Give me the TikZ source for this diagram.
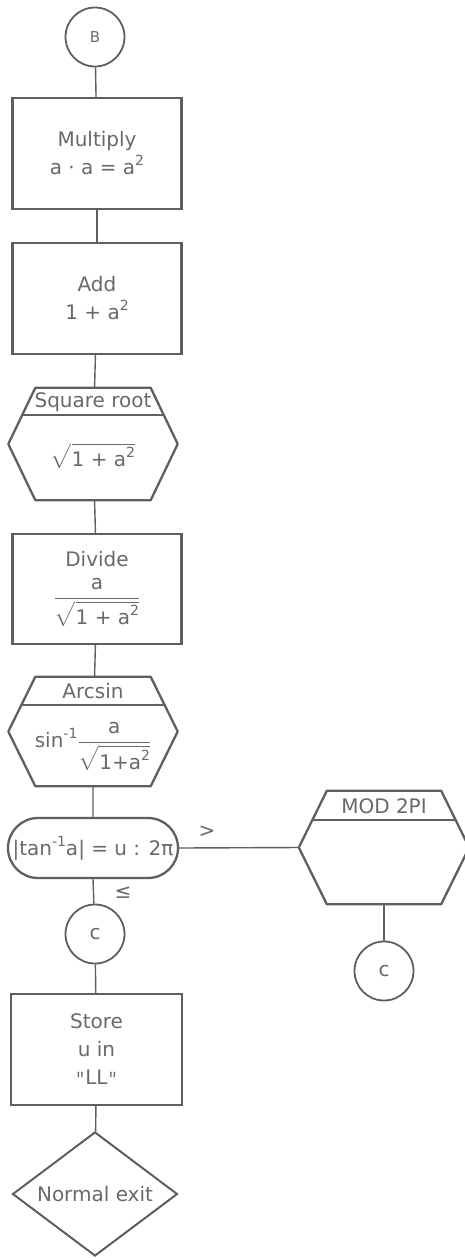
\RequirePackage{fix-cm}
\documentclass[tikz,border=0pt]{standalone}
\usepackage{amsmath}
\usepackage{fontspec}
\setmainfont{DejaVu Sans}
\usetikzlibrary{shapes.geometric,shapes.misc,calc}
\definecolor{ink}{RGB}{95,95,95}
\definecolor{txt}{RGB}{105,105,105}
\newcommand\tx[1]{\text{#1}}
\newcommand\supt[1]{\raisebox{0.45em}{\fontsize{14}{14}\selectfont #1}}
\newcommand\hexoutline[3]{%
  % #1 node name, #2 inset, #3 fraction along slant for divider
  \draw[hexline] ([xshift=#2]#1.north west) coordinate (#1-tl) -- ([xshift=-#2]#1.north east) coordinate (#1-tr)
     -- (#1.east) -- ([xshift=-#2]#1.south east) -- ([xshift=#2]#1.south west) -- (#1.west) -- cycle;
  \draw[hexline] ($(#1-tl)!#3!(#1.west)$) -- ($(#1-tr)!#3!(#1.east)$);
}
\begin{document}
\begin{tikzpicture}[x=1pt,y=-1pt,
  every node/.style={text=txt, font=\fontsize{20}{28}\selectfont},
  box/.style={draw=ink, line width=2.3pt, minimum width=169pt, minimum height=111pt, align=center, inner sep=0pt},
  hexbox/.style={minimum width=169pt, minimum height=112pt, inner sep=0pt},
  hexline/.style={draw=ink, line width=2.3pt, line join=round},
  conn/.style={draw=ink, line width=1.4pt},
  circ/.style={circle, draw=ink, line width=1.8pt, minimum size=59pt, inner sep=0pt},
  term/.style={rounded rectangle, draw=ink, line width=2.3pt, minimum width=170pt, minimum height=60pt, inner sep=0pt},
  dia/.style={diamond, draw=ink, line width=2pt, minimum width=165pt, minimum height=124pt, inner sep=0pt, aspect=1.33},
  lbl/.style={inner sep=0pt}
]
\useasboundingbox (0,0) rectangle (465,1258);
\fill[white] (0,0) rectangle (465,1258);

\node[circ] (B) at (95,37) {\fontsize{15}{16}\selectfont B};
\node[box] (mul) at (97,153.5) {Multiply\\a · a = a\supt{2}};
\node[box] (add) at (97,298.5) {Add\\1 + a\supt{2}};

\node[hexbox] (sq) at (93,444) {};
\hexoutline{sq}{27pt}{0.48}
\node[lbl] at ($(sq.north)+(0,14)$) {Square root};
\node[lbl] at ($(sq.north)+(0,68)$) {$\sqrt{\tx{1 + a\supt{2}}}$};

\node[box, minimum height=110pt] (div) at (97,589) {Divide\\[9pt]$\dfrac{\tx{a}}{\sqrt{\tx{1 + a\supt{2}}}}$};

\node[hexbox, minimum height=109pt] (asn) at (93,731.5) {};
\hexoutline{asn}{27pt}{0.51}
\node[lbl] at ($(asn.north)+(0,14)$) {Arcsin};
\node[lbl] at ($(asn.north)+(0,70)$) {$\tx{sin\supt{-1}}\dfrac{\tx{a}}{\sqrt{\tx{1+a\supt{2}}}}$};

\node[term] (tst) at (93,848) {|tan\supt{-1}a| = u : 2π};

\node[hexbox, minimum width=170pt, minimum height=113pt] (mod) at (384,847.5) {};
\hexoutline{mod}{28pt}{0.51}
\node[lbl] at ($(mod.north)+(0,15)$) {MOD 2PI};

\node[circ] (c2) at (384,971) {c};
\node[circ] (c1) at (95,934) {c};
\node[box, minimum width=171pt] (sto) at (96.5,1049.5) {Store\\u in\\{\ttfamily "}LL{\ttfamily "}};
\node[dia] (ex) at (95,1194) {Normal exit};

\draw[conn] (B) -- (mul);
\draw[conn] (mul) -- (add);
\draw[conn] (add) -- (sq);
\draw[conn] (sq) -- (div);
\draw[conn] (div) -- (asn);
\draw[conn] (asn) -- (tst);
\draw[conn] (tst.east) -- (mod.west);
\draw[conn] (mod.south) -- (c2);
\draw[conn] (tst.south) -- (c1);
\draw[conn] (c1) -- (sto);
\draw[conn] (sto) -- (ex);

\node[lbl] (gt) at (207,832) {>};
\node[lbl] (le) at (123,893) {≤};
\end{tikzpicture}
\end{document}
